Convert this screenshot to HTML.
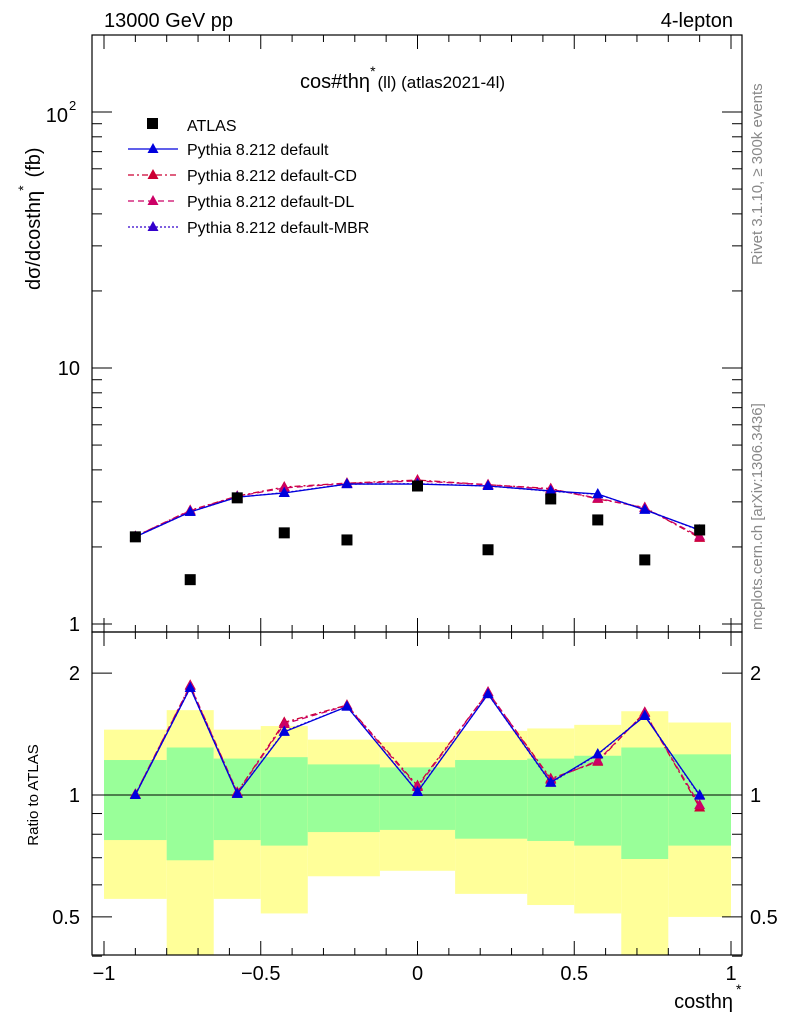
<!DOCTYPE html>
<html><head><meta charset="utf-8"><style>
body{margin:0;background:#fff}
svg{display:block;font-family:"Liberation Sans",sans-serif}
</style></head><body>
<svg id="c" width="786" height="1024" viewBox="0 0 786 1024"></svg>
<script>
const binLo=[-1,-0.8,-0.65,-0.5,-0.35,-0.12,0.12,0.35,0.5,0.65,0.8];
const binHi=[-0.8,-0.65,-0.5,-0.35,-0.12,0.12,0.35,0.5,0.65,0.8,1];
const xPts=[-0.9,-0.725,-0.575,-0.425,-0.225,0,0.225,0.425,0.575,0.725,0.9];
const atlas=[2.19,1.49,3.11,2.27,2.13,3.46,1.95,3.08,2.55,1.78,2.33];
const mcDefault=[2.19,2.74,3.13,3.25,3.52,3.52,3.46,3.31,3.22,2.79,2.33];
const mcCD=[2.2,2.78,3.16,3.43,3.55,3.65,3.5,3.38,3.08,2.85,2.17];
const mcDL=[2.2,2.77,3.15,3.4,3.54,3.62,3.5,3.36,3.1,2.84,2.2];
const mcMBR=[2.19,2.74,3.13,3.26,3.52,3.53,3.46,3.3,3.21,2.8,2.32];
const yelHi=[1.45,1.62,1.45,1.48,1.37,1.35,1.44,1.46,1.49,1.61,1.51];
const yelLo=[0.554,0.3,0.554,0.51,0.63,0.65,0.57,0.535,0.51,0.3,0.50];
const grnHi=[1.22,1.31,1.23,1.24,1.19,1.17,1.22,1.23,1.25,1.31,1.26];
const grnLo=[0.774,0.69,0.774,0.75,0.81,0.82,0.78,0.77,0.75,0.695,0.75];

const svg=document.getElementById('c');const NS='http://www.w3.org/2000/svg';
function el(t,a,p){const e=document.createElementNS(NS,t);for(const k in a)e.setAttribute(k,a[k]);(p||svg).appendChild(e);return e;}
function tx(s,a,name){const e=el('text',a);e.textContent=s;return e;}
function ts(parent,s,a){const e=el('tspan',a,parent);e.textContent=s;return e;}
const X=v=>417.5+313.5*v;
const Y=v=>624-256*Math.log10(v);
const R=v=>795-405*Math.log10(v);
const L=92,Rt=742,T=35,M=632,B=955;
const bands=el('g',{});


for(let i=0;i<binLo.length;i++){
 const x0=X(binLo[i]),x1=X(binHi[i]);
 const yt=R(yelHi[i]),yb=Math.min(B,R(yelLo[i]));
 const r1=el('rect',{x:x0,y:yt,width:x1-x0,height:yb-yt,fill:'#ffff99'},bands);
 
 
 const gt=R(grnHi[i]),gb=R(grnLo[i]);
 const r2=el('rect',{x:x0,y:gt,width:x1-x0,height:gb-gt,fill:'#99ff99'},bands);
 
 
}
el('line',{x1:L,x2:Rt,y1:R(1),y2:R(1),stroke:'#000','stroke-width':1});
const f1=el('rect',{x:L,y:T,width:Rt-L,height:M-T,fill:'none',stroke:'#000','stroke-width':1.2});

const f2=el('rect',{x:L,y:M,width:Rt-L,height:B-M,fill:'none',stroke:'#000','stroke-width':1.2});

for(let k=-10;k<=10;k++){const v=k/10,x=X(v),big=k%5==0,len=big?14:7;
 for(const [yb,yt] of [[M,T],[B,M]]){el('line',{x1:x,x2:x,y1:yb,y2:yb-len,stroke:'#000'});el('line',{x1:x,x2:x,y1:yt,y2:yt+len,stroke:'#000'});}
 if(big)tx(v==0?'0':(v<0?'\u2212':'')+Math.abs(v),{x:x,y:980,'font-size':20,'text-anchor':'middle'},'x-tick-label');}
for(let d=0;d<3;d++)for(let m=1;m<10;m++){const v=m*Math.pow(10,d);const y=Y(v);if(y<T)continue;const len=m==1?20:10;
 el('line',{x1:L,x2:L+len,y1:y,y2:y,stroke:'#000'});el('line',{x1:Rt,x2:Rt-len,y1:y,y2:y,stroke:'#000'});}
tx('1',{x:80,y:631,'font-size':20,'text-anchor':'end'},'y-tick-label');
tx('10',{x:80,y:375,'font-size':20,'text-anchor':'end'},'y-tick-label');
tx('10',{x:68,y:122,'font-size':20,'text-anchor':'end'},'y-tick-label');
tx('2',{x:69,y:110,'font-size':13},'y-tick-exponent');
for(const v of [0.4,0.5,0.6,0.7,0.8,0.9,1,2]){const y=R(v);const len=(v==0.5||v==1||v==2)?20:10;
 el('line',{x1:L,x2:L+len,y1:y,y2:y,stroke:'#000'});el('line',{x1:Rt,x2:Rt-len,y1:y,y2:y,stroke:'#000'});}
for(const [v,s] of [[0.5,'0.5'],[1,'1'],[2,'2']]){tx(s,{x:80,y:R(v)+7,'font-size':20,'text-anchor':'end'},'ratio-tick-label');tx(s,{x:750,y:R(v)+7,'font-size':20},'ratio-tick-label');}
const series=[{d:mcCD,c:'#cc0033',dash:'6,3,2,3',n:'cd'},{d:mcDL,c:'#cc0066',dash:'6,4',n:'dl'},{d:mcMBR,c:'#3300cc',dash:'2,2',n:'mbr'},{d:mcDefault,c:'#0000dd',dash:'',n:'default'}];
function tri(g,x,y,c){const p=el('polygon',{points:`${x},${y-6} ${x-5.5},${y+4} ${x+5.5},${y+4}`,fill:c},g);}
for(const s of series){
 const g=el('g',{});
 const pts=s.d.map((v,i)=>X(xPts[i])+','+Y(v)).join(' ');
 el('polyline',{points:pts,fill:'none',stroke:s.c,'stroke-width':1.3,'stroke-dasharray':s.dash},g);
 const rp=s.d.map((v,i)=>X(xPts[i])+','+R(v/atlas[i])).join(' ');
 el('polyline',{points:rp,fill:'none',stroke:s.c,'stroke-width':1.3,'stroke-dasharray':s.dash},g);
 s.d.forEach((v,i)=>{tri(g,X(xPts[i]),Y(v),s.c);tri(g,X(xPts[i]),R(v/atlas[i]),s.c);});
}
const ga=el('g',{});
atlas.forEach((v,i)=>{const r=el('rect',{x:X(xPts[i])-5.5,y:Y(v)-5.5,width:11,height:11,fill:'#000'},ga);});
const lg=el('g',{});
el('rect',{x:147,y:118,width:11,height:11,fill:'#000'},lg);
tx('ATLAS',{x:187,y:131,'font-size':16},'legend-entry');
const names=['Pythia 8.212 default','Pythia 8.212 default-CD','Pythia 8.212 default-DL','Pythia 8.212 default-MBR'];
const ls=[series[3],series[0],series[1],series[2]];
names.forEach((n,i)=>{const y=149+26*i;el('line',{x1:128,x2:178,y1:y,y2:y,stroke:ls[i].c,'stroke-width':1.3,'stroke-dasharray':ls[i].dash},lg);tri(lg,153,y,ls[i].c);tx(n,{x:187,y:y+6,'font-size':16},'legend-entry');});
tx('13000 GeV pp',{x:104,y:27,'font-size':20},'header-left');
tx('4-lepton',{x:733,y:27,'font-size':20,'text-anchor':'end'},'header-right');
const tt=tx('',{x:300,y:88,'font-size':20},'plot-title');
ts(tt,'cos#th\u03B7',{});ts(tt,'*',{'font-size':14,dy:-12});ts(tt,'(ll) (atlas2021-4l)',{'font-size':17,dy:12,dx:2});
const yt=tx('',{x:0,y:0,'font-size':20,transform:'translate(40,290) rotate(-90)'},'y-axis-title');
ts(yt,'d\u03C3/dcosth\u03B7',{});ts(yt,'*',{'font-size':14,dy:-12});ts(yt,'(fb)',{dy:12,dx:8});
tx('Ratio to ATLAS',{x:0,y:0,'font-size':15,transform:'translate(38,795) rotate(-90)','text-anchor':'middle'},'ratio-axis-title');
tx('costh\u03B7',{x:733,y:1008,'font-size':20,'text-anchor':'end'},'x-axis-title');
tx('*',{x:736,y:994,'font-size':14},'x-axis-title-star');
tx('Rivet 3.1.10, \u2265 300k events',{x:0,y:0,'font-size':15,fill:'#888',transform:'translate(762,265) rotate(-90)'},'rivet-label');
tx('mcplots.cern.ch [arXiv:1306.3436]',{x:0,y:0,'font-size':15,fill:'#888',transform:'translate(762,630) rotate(-90)'},'mcplots-label');
</script>
</body></html>
